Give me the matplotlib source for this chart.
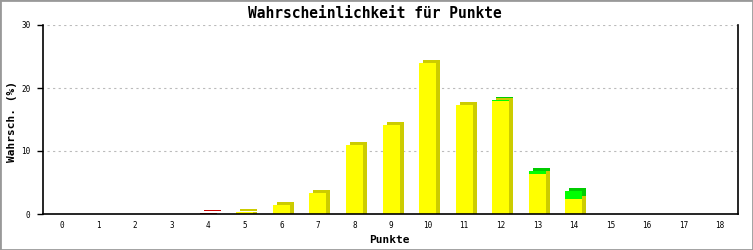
import matplotlib
matplotlib.use("Agg")
import matplotlib.pyplot as plt
import matplotlib.transforms as mtransforms
from matplotlib.patches import Rectangle

categories = list(range(19))
yellow_vals = [0, 0, 0, 0, 0, 0.3, 1.4, 3.4, 11.0, 14.1, 24.0, 17.3, 17.9, 6.3, 2.4, 0, 0, 0, 0]
green_vals = [0, 0, 0, 0, 0, 0, 0, 0, 0, 0, 0, 0, 0.2, 0.5, 1.3, 0, 0, 0, 0]
red_vals = [0, 0, 0, 0, 0.15, 0, 0, 0, 0, 0, 0, 0, 0, 0, 0, 0, 0, 0, 0]
yticks = [0, 10, 20, 30]

title = "Wahrscheinlichkeit für Punkte"
xlabel = "Punkte"
ylabel = "Wahrsch. (%)"

W, H = 753, 250
fig = plt.figure(figsize=(W / 100, H / 100), dpi=100)
ax = fig.add_axes([43 / W, (H - 214) / H, (738 - 43) / W, (214 - 25) / H])

mono = "DejaVu Sans Mono"
width = 0.465
shadow = ax.transData + mtransforms.ScaledTranslation(4 / 100, 3 / 100, fig.dpi_scale_trans)
side = ax.transData + mtransforms.ScaledTranslation(4 / 100, 0, fig.dpi_scale_trans)

def draw(vals, bottom, front, dark, base=False):
    for x, v, b in zip(categories, vals, bottom):
        if v <= 0:
            continue
        ax.bar(x, v, width, bottom=b, color=dark, transform=shadow, zorder=2, linewidth=0)
        if base:
            ax.bar(x, v, width, bottom=b, color=dark, transform=side, zorder=2, linewidth=0)
    for x, v, b in zip(categories, vals, bottom):
        if v <= 0:
            continue
        ax.bar(x, v, width, bottom=b, color=front, zorder=3, linewidth=0)

zero = [0] * len(categories)
draw(yellow_vals, zero, "#ffff00", "#cccc00", base=True)
top_y = [y for y in yellow_vals]
draw(green_vals, top_y, "#00ff00", "#00cc00")
draw(red_vals, top_y, "#ee0000", "#cc0000")

ax.set_xlim(-0.52, 18.49)
ax.set_ylim(0, 30)
ax.set_xticks(categories)
ax.set_xticklabels([str(c) for c in categories], family=mono, fontsize=5.5)
ax.set_yticks(yticks)
ax.set_yticklabels([str(t) for t in yticks], family=mono, fontsize=5.5)
ax.tick_params(axis="x", length=0, pad=5)
ax.tick_params(axis="y", length=4, width=1, pad=5)
for yv in yticks[1:]:
    ax.axhline(yv, xmin=0.006, xmax=1, color="#bbbbbb", linestyle=(0, (2, 3)), linewidth=0.8, zorder=1)
ax.spines["top"].set_visible(False)
for s in ["left", "right", "bottom"]:
    ax.spines[s].set_linewidth(1.2)
    ax.spines[s].set_zorder(5)

fig.text(375 / W, 1 - 13 / H, title, family=mono, fontsize=10.5, weight="bold", ha="center", va="center")
fig.text(389 / W, 1 - 240 / H, xlabel, family=mono, fontsize=8, weight="bold", ha="center", va="center")
fig.text(12 / W, 1 - 121 / H, ylabel, family=mono, fontsize=8, weight="bold", ha="center", va="center", rotation=90)

fig.patches.append(Rectangle((0, 0), 1, 1, transform=fig.transFigure, fill=False, edgecolor="#999999", linewidth=2))
fig.savefig("out.png", dpi=100, facecolor="white")
